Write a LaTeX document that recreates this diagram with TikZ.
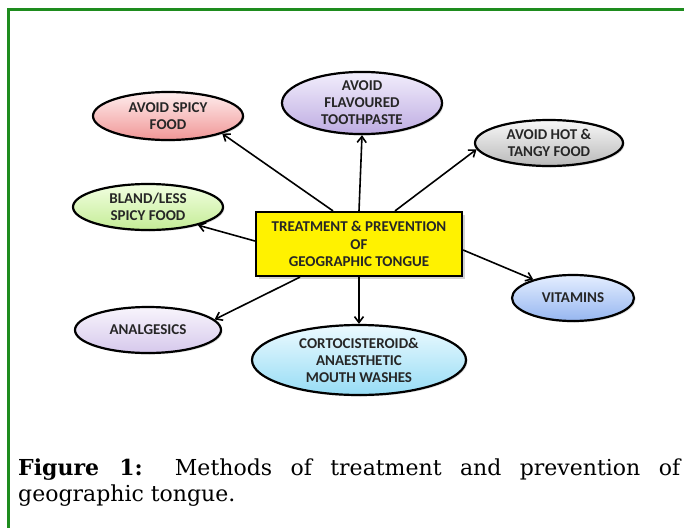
\documentclass[tikz,border=0pt]{standalone}
\usepackage{fontspec}
\newfontfamily\labelfont{Carlito}
\newfontfamily\capfont{DejaVu Serif}
\usetikzlibrary{shapes.geometric}
\usetikzlibrary{shadows}
\usetikzlibrary{arrows.meta}

\definecolor{framegreen}{RGB}{30,140,30}
\definecolor{spicytop}{RGB}{255,238,238}
\definecolor{spicybot}{RGB}{240,150,150}
\definecolor{toothtop}{RGB}{242,238,252}
\definecolor{toothbot}{RGB}{190,172,226}
\definecolor{hottop}{RGB}{248,248,248}
\definecolor{hotbot}{RGB}{185,185,185}
\definecolor{blandtop}{RGB}{242,255,225}
\definecolor{blandbot}{RGB}{196,236,150}
\definecolor{vittop}{RGB}{228,238,255}
\definecolor{vitbot}{RGB}{150,182,240}
\definecolor{analtop}{RGB}{248,245,252}
\definecolor{analbot}{RGB}{214,200,236}
\definecolor{cortop}{RGB}{236,250,255}
\definecolor{corbot}{RGB}{150,220,245}

\begin{document}
\begin{tikzpicture}[x=1pt,y=-1pt,
  bubble/.style={ellipse, draw=black, line width=2.2pt, inner sep=0pt, align=center,
    font=\labelfont\bfseries\fontsize{15}{17}\selectfont, text=black!85,
    drop shadow={opacity=.25, shadow xshift=1.5pt, shadow yshift=-1.5pt}},
  arr/.style={-{Straight Barb[length=6pt,width=9pt]}, line width=1.6pt}]
  \useasboundingbox (0,0) rectangle (684,527);
  \draw[draw=framegreen, line width=3pt] (8.5,535) |- (695,10);

  \node[draw=black, line width=2.2pt, fill=yellow, minimum width=206pt, minimum height=64pt,
    align=center, font=\labelfont\bfseries\fontsize{15}{17.5}\selectfont, text=black!85,
    drop shadow={opacity=.35, shadow xshift=3pt, shadow yshift=-3pt}] (box) at (359,244)
    {TREATMENT \& PREVENTION\\OF\\GEOGRAPHIC TONGUE};

  \node[bubble, top color=spicytop, bottom color=spicybot, minimum width=150pt, minimum height=48pt] (spicy) at (168,116) {AVOID SPICY\\FOOD};
  \node[bubble, top color=toothtop, bottom color=toothbot, minimum width=160pt, minimum height=60pt] (tooth) at (362,103) {AVOID\\FLAVOURED\\TOOTHPASTE};
  \node[bubble, top color=hottop, bottom color=hotbot, minimum width=148pt, minimum height=46pt] (hot) at (549,143) {AVOID HOT \&\\TANGY FOOD};
  \node[bubble, top color=blandtop, bottom color=blandbot, minimum width=150pt, minimum height=46pt] (bland) at (148,207) {BLAND/LESS\\SPICY FOOD};
  \node[bubble, top color=vittop, bottom color=vitbot, minimum width=122pt, minimum height=46pt] (vit) at (573,298) {VITAMINS};
  \node[bubble, top color=analtop, bottom color=analbot, minimum width=146pt, minimum height=46pt] (anal) at (148,330) {ANALGESICS};
  \node[bubble, top color=cortop, bottom color=corbot, minimum width=214pt, minimum height=70pt] (cortico) at (359,360) {CORTOCISTEROID\&\\ANAESTHETIC\\MOUTH WASHES};

  \draw[arr] ([xshift=-26pt]box.north) -- (spicy.-18);
  \draw[arr] (box.north) -- (tooth.south);
  \draw[arr] ([xshift=36pt]box.north) -- (hot.185);
  \draw[arr] ([yshift=3pt]box.west) -- (bland.-20);
  \draw[arr] ([yshift=-6pt]box.east) -- (vit.155);
  \draw[arr] ([xshift=-59pt]box.south) -- (anal.9);
  \draw[arr] (box.south) -- (cortico.north);

  \node[anchor=north west, inner sep=0pt, text width=662pt, align=justify,
    font=\capfont\fontsize{22}{25.5}\selectfont] (caption) at (18,459)
    {\textbf{Figure 1:} Methods of treatment and prevention of\linebreak geographic tongue.};
\end{tikzpicture}
\end{document}
